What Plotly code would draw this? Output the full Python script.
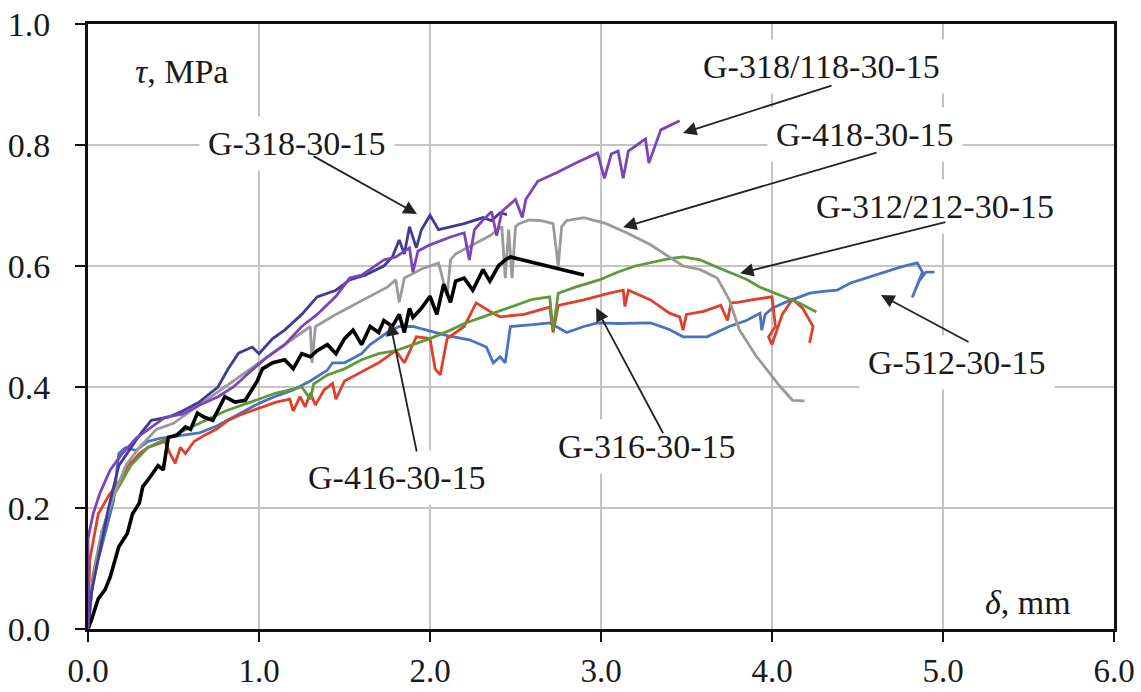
import plotly.graph_objects as go

# Bond stress (tau, MPa) versus slip (delta, mm) for each specimen
g318_118_x = [0, 0, 0.03, 0.07, 0.13, 0.2, 0.28, 0.37, 0.45, 0.55, 0.65, 0.76, 0.85, 0.96, 1.05, 1.15,
              1.25, 1.34, 1.45, 1.53, 1.6, 1.73, 1.8, 1.88, 1.9, 1.93, 2.0, 2.12, 2.2, 2.23, 2.26, 2.31,
              2.36, 2.39, 2.42, 2.5, 2.54, 2.56, 2.63, 2.74, 2.85, 2.98, 3.02, 3.06, 3.1, 3.13, 3.16,
              3.21, 3.26, 3.28, 3.35, 3.46]
g318_118_y = [0, 0.15, 0.19, 0.225, 0.263, 0.29, 0.315, 0.334, 0.35, 0.355, 0.37, 0.384, 0.40, 0.428,
              0.45, 0.47, 0.50, 0.52, 0.55, 0.58, 0.585, 0.61, 0.615, 0.63, 0.59, 0.625, 0.635, 0.648,
              0.655, 0.61, 0.66, 0.676, 0.69, 0.65, 0.69, 0.71, 0.68, 0.71, 0.74, 0.754, 0.77, 0.787,
              0.745, 0.785, 0.79, 0.745, 0.79, 0.80, 0.81, 0.77, 0.825, 0.84]

g318_x = [0, 0.02, 0.07, 0.12, 0.18, 0.25, 0.3, 0.37, 0.47, 0.55, 0.65, 0.76, 0.82, 0.88, 0.96, 1.0,
          1.08, 1.15, 1.25, 1.34, 1.45, 1.53, 1.62, 1.73, 1.78, 1.82, 1.85, 1.88, 1.92, 1.95, 2.0,
          2.05, 2.12, 2.2, 2.31, 2.36, 2.41, 2.45]
g318_y = [0, 0.06, 0.13, 0.2, 0.27, 0.3, 0.32, 0.345, 0.35, 0.36, 0.375, 0.40, 0.43, 0.456, 0.466,
          0.455, 0.48, 0.494, 0.52, 0.549, 0.56, 0.577, 0.585, 0.60, 0.615, 0.643, 0.62, 0.665, 0.63,
          0.66, 0.684, 0.66, 0.665, 0.67, 0.68, 0.675, 0.688, 0.685]

g418_x = [0, 0.03, 0.08, 0.15, 0.22, 0.3, 0.4, 0.5, 0.6, 0.7, 0.8, 0.9, 1.0, 1.1, 1.2, 1.3, 1.31,
          1.33, 1.36, 1.45, 1.55, 1.65, 1.75, 1.8, 1.82, 1.85, 1.95, 2.05, 2.1, 2.12, 2.15, 2.25,
          2.35, 2.42, 2.44, 2.46, 2.48, 2.5, 2.52, 2.58, 2.65, 2.72, 2.75, 2.77, 2.8, 2.9, 3.03,
          3.15, 3.29, 3.48, 3.58, 3.68, 3.75, 3.81, 3.91, 4.05, 4.12, 4.19]
g418_y = [0, 0.08, 0.16, 0.22, 0.27, 0.3, 0.33, 0.34, 0.36, 0.38, 0.40, 0.42, 0.44, 0.46, 0.48, 0.5,
          0.44, 0.5, 0.505, 0.52, 0.535, 0.55, 0.565, 0.577, 0.54, 0.58, 0.595, 0.605, 0.55, 0.61,
          0.62, 0.635, 0.65, 0.665, 0.58, 0.66, 0.58, 0.665, 0.67, 0.676, 0.675, 0.67, 0.60, 0.665,
          0.675, 0.68, 0.67, 0.655, 0.635, 0.60, 0.594, 0.58, 0.544, 0.494, 0.45, 0.40, 0.378, 0.377]

g416_x = [0, 0.02, 0.06, 0.1, 0.13, 0.18, 0.23, 0.26, 0.3, 0.32, 0.36, 0.41, 0.44, 0.47, 0.52, 0.57,
          0.6, 0.64, 0.68, 0.73, 0.8, 0.86, 0.92, 0.99, 1.02, 1.08, 1.15, 1.2, 1.25, 1.3, 1.34, 1.4,
          1.45, 1.5, 1.55, 1.6, 1.65, 1.7, 1.73, 1.78, 1.82, 1.85, 1.88, 1.9, 1.95, 2.0, 2.04, 2.08,
          2.12, 2.15, 2.2, 2.25, 2.31, 2.35, 2.4, 2.44, 2.47, 2.9]
g416_y = [0, 0.015, 0.05, 0.065, 0.086, 0.136, 0.158, 0.19, 0.208, 0.235, 0.25, 0.27, 0.263, 0.317,
          0.32, 0.334, 0.33, 0.357, 0.35, 0.345, 0.384, 0.375, 0.378, 0.41, 0.43, 0.44, 0.445, 0.43,
          0.455, 0.45, 0.46, 0.47, 0.455, 0.48, 0.494, 0.47, 0.5, 0.49, 0.51, 0.5, 0.52, 0.49, 0.53,
          0.515, 0.53, 0.55, 0.52, 0.57, 0.54, 0.575, 0.58, 0.56, 0.594, 0.575, 0.60, 0.61, 0.615,
          0.585]

g312_212_x = [0, 0.03, 0.08, 0.15, 0.25, 0.35, 0.5, 0.65, 0.8, 0.95, 1.1, 1.25, 1.3, 1.32, 1.4, 1.5,
              1.6, 1.7, 1.8, 1.9, 2.0, 2.12, 2.2, 2.31, 2.45, 2.6, 2.7, 2.72, 2.75, 2.85, 2.99, 3.1,
              3.2, 3.29, 3.4, 3.48, 3.58, 3.68, 3.77, 3.85, 3.93, 4.0, 4.07, 4.15, 4.26]
g312_212_y = [0, 0.09, 0.16, 0.22, 0.27, 0.3, 0.32, 0.34, 0.36, 0.375, 0.39, 0.40, 0.38, 0.405, 0.42,
              0.43, 0.445, 0.455, 0.46, 0.47, 0.48, 0.494, 0.505, 0.516, 0.53, 0.545, 0.549, 0.494,
              0.555, 0.565, 0.577, 0.59, 0.60, 0.605, 0.612, 0.615, 0.61, 0.598, 0.588, 0.578, 0.565,
              0.557, 0.549, 0.54, 0.524]

g316_x = [0, 0.01, 0.06, 0.12, 0.17, 0.2, 0.23, 0.27, 0.3, 0.35, 0.4, 0.45, 0.48, 0.51, 0.54, 0.57,
          0.62, 0.68, 0.75, 0.82, 0.9, 1.0, 1.1, 1.18, 1.2, 1.24, 1.27, 1.3, 1.33, 1.38, 1.43, 1.45,
          1.5, 1.6, 1.7, 1.8, 1.85, 1.92, 2.0, 2.03, 2.06, 2.1, 2.15, 2.2, 2.27, 2.35, 2.41, 2.55,
          2.7, 2.72, 2.75, 2.9, 3.05, 3.13, 3.14, 3.16, 3.29, 3.4, 3.46, 3.48, 3.5, 3.6, 3.7, 3.74,
          3.76, 3.8, 3.9, 4.0, 4.02, 3.98, 4.0, 4.06, 4.12, 4.18, 4.24, 4.22]
g316_y = [0, 0.114, 0.19, 0.22, 0.24, 0.25, 0.27, 0.28, 0.29, 0.3, 0.305, 0.31, 0.29, 0.274, 0.3,
          0.29, 0.31, 0.32, 0.33, 0.345, 0.355, 0.365, 0.375, 0.38, 0.36, 0.384, 0.367, 0.39, 0.37,
          0.395, 0.406, 0.38, 0.41, 0.425, 0.44, 0.46, 0.44, 0.483, 0.48, 0.43, 0.42, 0.48, 0.49,
          0.50, 0.539, 0.525, 0.516, 0.52, 0.532, 0.49, 0.535, 0.544, 0.555, 0.56, 0.533, 0.56,
          0.544, 0.522, 0.516, 0.494, 0.52, 0.525, 0.535, 0.51, 0.539, 0.54, 0.545, 0.549, 0.50,
          0.483, 0.47, 0.52, 0.545, 0.53, 0.50, 0.473]

g512_x = [0, 0.03, 0.08, 0.12, 0.15, 0.18, 0.22, 0.28, 0.35, 0.42, 0.47, 0.55, 0.65, 0.75, 0.85, 1.0,
          1.1, 1.2, 1.3, 1.4, 1.43, 1.5, 1.6, 1.65, 1.7, 1.75, 1.82, 1.9, 1.98, 2.1, 2.23, 2.33,
          2.37, 2.41, 2.44, 2.47, 2.6, 2.7, 2.8, 2.9, 2.98, 3.1, 3.29, 3.4, 3.48, 3.62, 3.75, 3.85,
          3.93, 3.94, 3.96, 4.0, 4.07, 4.15, 4.22, 4.3, 4.38, 4.46, 4.55, 4.65, 4.69, 4.75, 4.85,
          4.88, 4.82, 4.86, 4.9, 4.95]
g512_y = [0, 0.086, 0.136, 0.18, 0.213, 0.29, 0.3, 0.295, 0.31, 0.315, 0.317, 0.32, 0.324, 0.335,
          0.35, 0.373, 0.385, 0.395, 0.41, 0.428, 0.44, 0.44, 0.455, 0.47, 0.48, 0.49, 0.50, 0.50,
          0.494, 0.485, 0.478, 0.466, 0.44, 0.45, 0.44, 0.5, 0.503, 0.506, 0.49, 0.5, 0.506, 0.505,
          0.506, 0.495, 0.483, 0.483, 0.50, 0.51, 0.522, 0.494, 0.52, 0.53, 0.539, 0.548, 0.555,
          0.558, 0.56, 0.572, 0.58, 0.59, 0.593, 0.598, 0.605, 0.59, 0.548, 0.575, 0.59, 0.59]

x_ticks = [0, 1, 2, 3, 4, 5, 6]
y_ticks = [0, 0.2, 0.4, 0.6, 0.8, 1.0]

SERIF = "Liberation Serif, Times New Roman, serif"
TEXT_COLOR = "#1a1a1a"

series = [
    (g512_x, g512_y, "#4a72c4", 2.8),
    (g316_x, g316_y, "#e0402a", 2.8),
    (g312_212_x, g312_212_y, "#5e9a3c", 2.8),
    (g418_x, g418_y, "#9a9a9a", 2.8),
    (g416_x, g416_y, "#000000", 3.6),
    (g318_x, g318_y, "#3f3b96", 2.8),
    (g318_118_x, g318_118_y, "#7b44b8", 2.8),
]

fig = go.Figure()
for xs, ys, color, width in series:
    fig.add_trace(go.Scatter(x=xs, y=ys, mode="lines",
                             line=dict(color=color, width=width),
                             showlegend=False, hoverinfo="skip"))

# Specimen labels: (text, label position, arrow tail, arrow tip)
labels = [
    ("G-318/118-30-15", (4.292, 0.929), (4.357, 0.899), (3.48, 0.82)),
    ("G-418-30-15", (4.544, 0.817), (4.62, 0.788), (3.129, 0.664)),
    ("G-312/212-30-15", (4.953, 0.698), (5.023, 0.673), (3.813, 0.588)),
    ("G-318-30-15", (1.222, 0.803), (1.31, 0.783), (1.924, 0.686)),
    ("G-416-30-15", (1.807, 0.251), (1.924, 0.291), (1.766, 0.507)),
    ("G-316-30-15", (3.269, 0.301), (3.368, 0.321), (2.971, 0.531)),
    ("G-512-30-15", (5.082, 0.44), (5.158, 0.473), (4.637, 0.552)),
]

annotations = []
for text, (lx, ly), (tx, ty), (hx, hy) in labels:
    annotations.append(dict(x=lx, y=ly, xref="x", yref="y", text=text, showarrow=False,
                            font=dict(family=SERIF, size=34, color=TEXT_COLOR),
                            bgcolor="white", borderpad=8))
for text, (lx, ly), (tx, ty), (hx, hy) in labels:
    annotations.append(dict(x=hx, y=hy, xref="x", yref="y", ax=tx, ay=ty, axref="x", ayref="y",
                            text="", showarrow=True, arrowhead=2, arrowsize=1.5,
                            arrowwidth=1.8, arrowcolor="#222222"))

annotations.append(dict(x=0.544, y=0.921, xref="x", yref="y", text="<i>τ</i>, MPa",
                        showarrow=False, bgcolor="white", borderpad=6,
                        font=dict(family=SERIF, size=34, color=TEXT_COLOR)))
annotations.append(dict(x=5.497, y=0.043, xref="x", yref="y", text="<i>δ</i>, mm",
                        showarrow=False, bgcolor="white", borderpad=6,
                        font=dict(family=SERIF, size=34, color=TEXT_COLOR)))

axis_common = dict(showgrid=True, gridcolor="#c4c4c4", gridwidth=1.5, zeroline=False,
                   showline=True, linecolor="#111111", linewidth=3, mirror=True,
                   ticks="outside", ticklen=10, tickwidth=2, tickcolor="#111111",
                   automargin=False)

fig.update_layout(
    width=1141, height=692,
    margin=dict(l=88, r=27, t=24, b=63),
    paper_bgcolor="white", plot_bgcolor="white",
    xaxis=dict(range=[0, 6], tickvals=x_ticks, tickformat=".1f", ticklabelstandoff=0,
               tickfont=dict(family=SERIF, size=33, color=TEXT_COLOR), **axis_common),
    yaxis=dict(range=[0, 1.0], tickvals=y_ticks, tickformat=".1f", ticklabelstandoff=18,
               tickfont=dict(family=SERIF, size=34, color=TEXT_COLOR), **axis_common),
    annotations=annotations,
)

fig.write_html("out.html")
